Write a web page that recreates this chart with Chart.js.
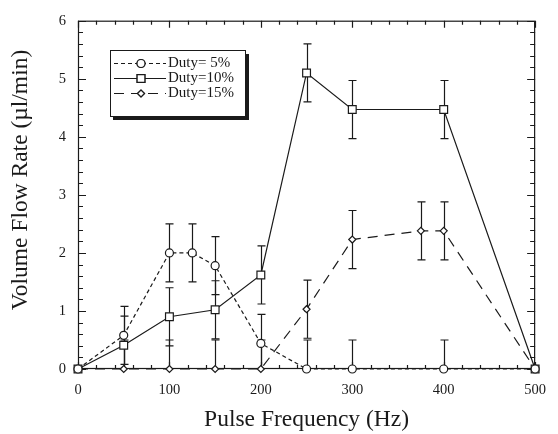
<!DOCTYPE html>
<html>
<head>
<meta charset="utf-8">
<script src="https://cdn.jsdelivr.net/npm/chart.js@4.4.1/dist/chart.umd.min.js"></script>
<style>
html, body { margin:0; padding:0; background:#fff; }
#wrap { width:558px; height:434px; position:relative; }
</style>
</head>
<body>
<div id="wrap"><canvas id="myChart"></canvas></div>
<script>
// VALUES
const freq5  = [0, 50, 100, 125, 150, 200, 250, 300, 400, 500];
const flow5  = [0, 0.58, 2.0, 2.0, 1.78, 0.44, 0, 0, 0, 0];
const err5   = [0, 0.5, 0.5, 0.5, 0.5, 0.5, 0.5, 0.5, 0.5, 0];

const freq10 = [0, 50, 100, 150, 200, 250, 300, 400, 500];
const flow10 = [0, 0.41, 0.9, 1.02, 1.62, 5.1, 4.47, 4.47, 0];
const err10  = [0, 0.5, 0.5, 0.5, 0.5, 0.5, 0.5, 0.5, 0];

const freq15 = [0, 50, 100, 150, 200, 250, 300, 375, 400, 500];
const flow15 = [0, 0, 0, 0, 0, 1.03, 2.23, 2.38, 2.38, 0];
const err15  = [0, 0.5, 0.5, 0.5, 0.5, 0.5, 0.5, 0.5, 0.5, 0];

const seriesLabels = ['Duty= 5%', 'Duty=10%', 'Duty=15%'];
const xTicks = [0, 100, 200, 300, 400, 500];
const yTicks = [0, 1, 2, 3, 4, 5, 6];
const xTitle = 'Pulse Frequency (Hz)';
const yTitle = 'Volume Flow Rate (\u00b5l/min)';

const SERIF = "'Liberation Serif', 'Times New Roman', serif";
const INK = '#1a1a1a';

function pts(xs, ys) {
    return xs.map(function(x, i){ return { x: x, y: ys[i] }; });
}

// FRAME + INWARD TICKS ON ALL FOUR SIDES
const frameTicks = {
    id: 'frameTicks',
    beforeDatasetsDraw(chart) {
        const ctx = chart.ctx, a = chart.chartArea;
        const sx = chart.scales.x, sy = chart.scales.y;
        ctx.save();
        ctx.strokeStyle = INK;
        ctx.lineWidth = 1.2;
        ctx.strokeRect(a.left + 0.5, a.top + 0.5, a.right - a.left - 1, a.bottom - a.top - 1);
        ctx.beginPath();
        for (let v = 0; v <= 500; v += 20) {
            const px = Math.round(sx.getPixelForValue(v)) + 0.5;
            const len = (v % 100 === 0) ? 7 : 4;
            ctx.moveTo(px, a.bottom); ctx.lineTo(px, a.bottom - len);
            ctx.moveTo(px, a.top); ctx.lineTo(px, a.top + len);
        }
        for (let k = 0; k <= 30; k++) {
            const v = k / 5;
            const py = Math.round(sy.getPixelForValue(v)) + 0.5;
            const len = (k % 5 === 0) ? 8 : 5;
            ctx.moveTo(a.left, py); ctx.lineTo(a.left + len, py);
            ctx.moveTo(a.right, py); ctx.lineTo(a.right - len, py);
        }
        ctx.stroke();
        ctx.restore();
    }
};

// ERROR BARS
const errorBars = {
    id: 'errorBars',
    beforeDatasetsDraw(chart) {
        const ctx = chart.ctx, a = chart.chartArea;
        const sx = chart.scales.x, sy = chart.scales.y;
        ctx.save();
        ctx.beginPath();
        ctx.rect(a.left, a.top, a.right - a.left, a.bottom - a.top);
        ctx.clip();
        ctx.strokeStyle = INK;
        ctx.lineWidth = 1.2;
        chart.data.datasets.forEach(function(ds){
            ds.data.forEach(function(p, i){
                const e = ds.errs[i];
                if (!e) return;
                const px = Math.round(sx.getPixelForValue(p.x)) + 0.5;
                const top = sy.getPixelForValue(p.y + e);
                const bot = sy.getPixelForValue(p.y - e);
                ctx.beginPath();
                ctx.moveTo(px, top); ctx.lineTo(px, bot);
                ctx.moveTo(px - 4, top); ctx.lineTo(px + 4, top);
                ctx.moveTo(px - 4, bot); ctx.lineTo(px + 4, bot);
                ctx.stroke();
            });
        });
        ctx.restore();
    }
};

// BOXED LEGEND WITH SHADOW + ROTATED Y TITLE
const boxLegend = {
    id: 'boxLegend',
    afterDraw(chart) {
        const ctx = chart.ctx;
        ctx.save();
        // shadow
        ctx.fillStyle = INK;
        ctx.fillRect(113, 116, 136, 4);
        ctx.fillRect(245, 54, 4, 66);
        ctx.fillStyle = '#fff';
        ctx.fillRect(110, 50, 135, 66);
        ctx.strokeStyle = INK;
        ctx.lineWidth = 1;
        ctx.strokeRect(110.5, 50.5, 135, 66);
        const rows = [63, 78, 93];
        chart.data.datasets.forEach(function(ds, i){
            const y = rows[i] + 0.5;
            ctx.strokeStyle = INK;
            ctx.lineWidth = 1.2;
            ctx.setLineDash(ds.borderDash || []);
            ctx.beginPath();
            ctx.moveTo(114, y); ctx.lineTo(166, y);
            ctx.stroke();
            ctx.setLineDash([]);
            Chart.helpers.drawPoint(ctx, {
                pointStyle: ds.pointStyle, radius: ds.pointRadius, rotation: 0,
                borderWidth: 1.2
            }, 141, y);
            ctx.fillStyle = '#fff';
            ctx.fill();
            ctx.stroke();
            ctx.fillStyle = INK;
            ctx.font = '15px ' + SERIF;
            ctx.textBaseline = 'middle';
            ctx.textAlign = 'left';
            ctx.fillText(ds.label, 168, y);
        });
        // y axis title
        ctx.translate(21, 180);
        ctx.rotate(-Math.PI / 2);
        ctx.font = '23.5px ' + SERIF;
        ctx.textAlign = 'center';
        ctx.textBaseline = 'middle';
        ctx.fillText(yTitle, 0, 0);
        ctx.restore();
    }
};

function mkSet(label, xs, ys, errs, style, radius, dash) {
    return {
        label: label,
        data: pts(xs, ys),
        errs: errs,
        borderColor: INK,
        backgroundColor: '#fff',
        borderWidth: 1.2,
        borderDash: dash,
        pointStyle: style,
        pointRadius: radius,
        pointBorderWidth: 1.2,
        pointBorderColor: INK,
        pointBackgroundColor: '#fff',
        tension: 0,
        fill: false,
        clip: false
    };
}

const ctx = document.getElementById('myChart').getContext('2d');
new Chart(ctx, {
    type: 'line',
    data: {
        datasets: [
            mkSet(seriesLabels[0], freq5, flow5, err5, 'circle', 4, [4, 3]),
            mkSet(seriesLabels[1], freq10, flow10, err10, 'rect', 5.5, []),
            mkSet(seriesLabels[2], freq15, flow15, err15, 'rectRot', 3.5, [10, 7])
        ]
    },
    options: {
        responsive: true,
        maintainAspectRatio: false,
        animation: false,
        layout: { padding: { top: 17, right: 12, left: 0, bottom: 0 } },
        plugins: { legend: { display: false }, tooltip: { enabled: false } },
        scales: {
            x: {
                type: 'linear', min: 0, max: 500,
                afterBuildTicks: function(s){ s.ticks = xTicks.map(function(v){ return { value: v }; }); },
                grid: { display: false, drawTicks: false },
                border: { display: false },
                ticks: { color: INK, font: { family: SERIF, size: 14.5 }, padding: 12, maxRotation: 0 },
                title: { display: true, text: xTitle, color: INK, font: { family: SERIF, size: 23.5 }, padding: { top: 0, bottom: 0 } },
                afterFit: function(s){ s.height = 65; }
            },
            y: {
                type: 'linear', min: 0, max: 6,
                afterBuildTicks: function(s){ s.ticks = yTicks.map(function(v){ return { value: v }; }); },
                grid: { display: false, drawTicks: false },
                border: { display: false },
                ticks: { color: INK, font: { family: SERIF, size: 14.5 }, padding: 12 },
                afterFit: function(s){ s.width = 78; }
            }
        }
    },
    plugins: [frameTicks, errorBars, boxLegend]
});
</script>
</body>
</html>
